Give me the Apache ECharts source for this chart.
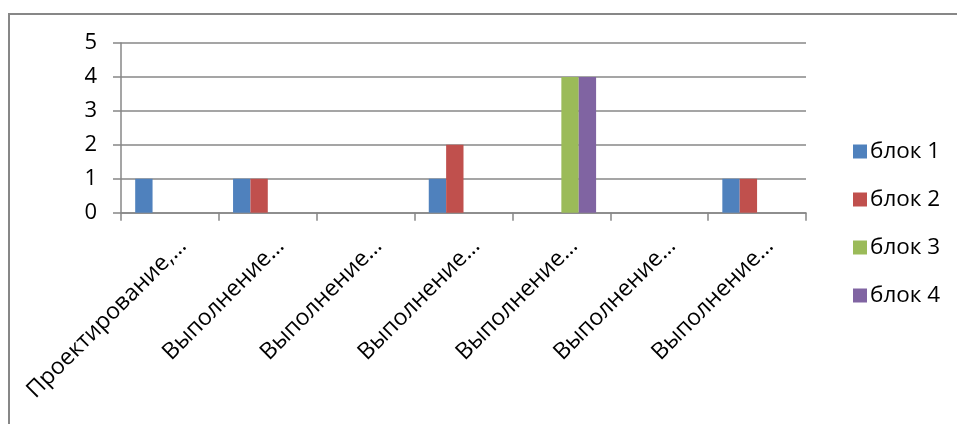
<!DOCTYPE html>
<html><head><meta charset="utf-8">
<script src="https://cdn.jsdelivr.net/npm/echarts@6/dist/echarts.min.js"></script>
<style>html,body{margin:0;padding:0;background:#fff}#c{width:957px;height:424px}</style>
</head><body><div id="c"></div>
<script>
const categories = ["Проектирование,…","Выполнение…","Выполнение…","Выполнение…","Выполнение…","Выполнение…","Выполнение…"];
const seriesNames = ["блок 1","блок 2","блок 3","блок 4"];
const block1 = [1,1,0,1,0,0,1];
const block2 = [0,1,0,2,0,0,1];
const block3 = [0,0,0,0,4,0,0];
const block4 = [0,0,0,0,4,0,0];
const colors = ["#4F81BD","#C0504D","#9BBB59","#8064A2"];
const yTicks = [0,1,2,3,4,5];

const FONT = "Open Sans";
const chart = echarts.init(document.getElementById('c'), null, {renderer:'canvas'});
const dataSets = [block1, block2, block3, block4];
chart.setOption({
  animation:false,
  color: colors,
  graphic:[{type:'rect', shape:{x:9, y:14, width:1000, height:500}, style:{fill:'none', stroke:'#878787', lineWidth:2}, silent:true}],
  grid:{left:121, right:151, top:43, bottom:211.3},
  legend:{
    orient:'vertical', left:848, top:135,
    itemWidth:14, itemHeight:14, itemGap:25,
    icon:'rect',
    textStyle:{fontFamily:FONT, fontSize:22.5, color:'#000', lineHeight:22, padding:[0,0,0,-2]},
    data: seriesNames
  },
  xAxis:{
    type:'category', data: categories,
    axisLine:{lineStyle:{color:'#878787', width:1.5}},
    axisTick:{show:true, length:8, lineStyle:{color:'#878787', width:1.5}},
    axisLabel:{rotate:45, interval:0, margin:17, align:'right', verticalAlign:'top', lineHeight:36, fontFamily:FONT, fontSize:23, color:'#000'}
  },
  yAxis:{
    type:'value', min:0, max:5, interval:1,
    axisLine:{show:true, lineStyle:{color:'#878787', width:1.5}},
    axisTick:{show:true, length:8, lineStyle:{color:'#878787', width:1.5}},
    splitLine:{show:true, lineStyle:{color:'#878787', width:1.5}},
    axisLabel:{margin:24, fontFamily:FONT, fontSize:22, color:'#000', formatter: v => String(yTicks[yTicks.indexOf(v)])}
  },
  series: dataSets.map((d,i)=>({
    name: seriesNames[i], type:'bar', data:d,
    barGap:'0%', barCategoryGap:'29%',
    itemStyle:{color:colors[i]}
  }))
});
</script></body></html>
